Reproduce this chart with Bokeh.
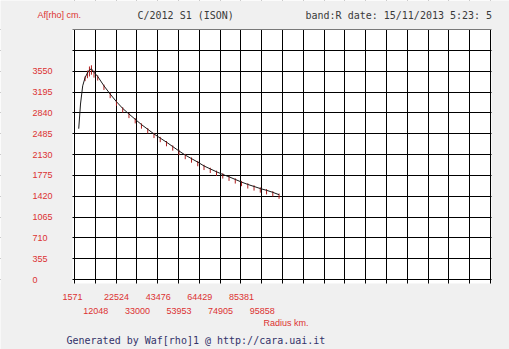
from bokeh.plotting import figure
from bokeh.models import Range1d, FixedTicker, Label, LabelSet, ColumnDataSource
from bokeh.core.properties import value
from bokeh.embed import file_html
from bokeh.resources import INLINE

# ---------------- data ----------------
x_tick_labels = ["1571", "12048", "22524", "33000", "43476", "53953",
                 "64429", "74905", "85381", "95858"]
y_tick_labels = ["0", "355", "710", "1065", "1420", "1775", "2130",
                 "2485", "2840", "3195", "3550"]

radius_km = [3700, 4600, 5700, 6900, 8100, 9100, 10100, 11400,
             13250, 16400, 19550, 22700, 25850, 29000, 32150, 35300,
             38450, 41600, 44750, 47900, 51050, 54200, 57350, 60500,
             63650, 66800, 69950, 73100, 76250, 79400, 82550, 85700,
             88850, 92000, 95150, 98300, 101450, 104600]
af_rho = [2570, 2990, 3300, 3440, 3520, 3570, 3590, 3530,
          3460, 3300, 3160, 3030, 2915, 2820, 2730, 2640,
          2560, 2480, 2410, 2340, 2265, 2190, 2120, 2060,
          2000, 1935, 1885, 1835, 1790, 1750, 1705, 1660,
          1620, 1585, 1550, 1520, 1485, 1445]
err_low = [0, 0, 0, 60, 90, 110, 100, 90,
           70, 70, 70, 70, 70, 70, 70, 70,
           70, 70, 70, 70, 70, 70, 70, 70,
           70, 70, 70, 70, 70, 70, 70, 70,
           70, 70, 70, 70, 70, 70]
err_high = [0, 0, 0, 20, 40, 60, 60, 30,
            20, 20, 20, 20, 20, 20, 20, 20,
            20, 20, 20, 20, 20, 20, 20, 20,
            20, 20, 20, 20, 20, 20, 20, 20,
            20, 20, 20, 20, 20, 20]

X0 = 1571.0
DX = (95858 - 1571) / 9.0
NX = 20
DY = 355.0
NY = 12

# ---------------- geometry (pixels on the 509x349 canvas) ----------------
W, H = 509, 349
PL, PT, PW, PH = 74, 29, 416, 250   # plot box
x_end = X0 + NX * DX
y_end = NY * DY


def xd(px):
    return X0 + (px - PL) / PW * (x_end - X0)


def yd(py):
    return (PT + PH - py) / PH * y_end


BG = "#f0f0f0"
p = figure(width=W, height=H, output_backend="svg", toolbar_location=None,
           x_range=Range1d(xd(0), xd(W)), y_range=Range1d(yd(H), yd(0)),
           x_axis_location=None, y_axis_location=None,
           min_border=0, min_border_left=0, min_border_right=0,
           min_border_top=0, min_border_bottom=0,
           background_fill_color="white", border_fill_color=BG,
           outline_line_color=None)

xgrid_ticks = [X0 + k * DX for k in range(NX + 1)]
ygrid_ticks = [k * DY for k in range(NY + 1)]

p.xgrid.ticker = FixedTicker(ticks=xgrid_ticks)
p.ygrid.ticker = FixedTicker(ticks=ygrid_ticks)
for g in (p.xgrid, p.ygrid):
    g.grid_line_color = "black"
    g.grid_line_alpha = 1.0
    g.grid_line_width = 1

# margins around the plot box (grid lines stick out 2-3 px as tick marks)
p.quad(left=[xd(0), xd(PL + PW + 1), xd(0), xd(0)],
       right=[xd(PL - 2), xd(W), xd(W), xd(W)],
       bottom=[yd(H), yd(H), yd(PT), yd(H)],
       top=[yd(0), yd(0), yd(0), yd(PT + PH + 4)],
       fill_color=BG, line_color=None)

# ---------------- curve ----------------
lo = [v - e for v, e in zip(af_rho, err_low)]
hi = [v + e for v, e in zip(af_rho, err_high)]
p.segment(radius_km, lo, radius_km, hi, line_color="#b01e1e", line_width=1)
p.line(radius_km, af_rho, line_color="#1a1a1a", line_width=1)

# ---------------- tick labels ----------------
RED = "#dc3232"
FONT = "Liberation Sans"
MONO = "DejaVu Sans Mono"

y_vals = [k * DY for k in range(len(y_tick_labels))]
ysrc = ColumnDataSource(dict(x=[xd(32)] * len(y_vals), y=y_vals, t=y_tick_labels))
p.add_layout(LabelSet(x="x", y="y", text="t", source=ysrc,
                      text_align="left", text_baseline="middle",
                      text_font=value(FONT), text_font_size="9px", text_color=RED))

x_lab_x = [xd(PL + k * PW / NX - 12) for k in range(len(x_tick_labels))]
x_lab_y = [yd(296.5) if k % 2 == 0 else yd(310) for k in range(len(x_tick_labels))]
xsrc = ColumnDataSource(dict(x=x_lab_x, y=x_lab_y, t=x_tick_labels))
p.add_layout(LabelSet(x="x", y="y", text="t", source=xsrc,
                      text_align="left", text_baseline="middle",
                      text_font=value(FONT), text_font_size="9px", text_color=RED))


# ---------------- texts ----------------
def add_text(txt, px, py, color, font, size):
    p.add_layout(Label(x=xd(px), y=yd(py), text=txt, text_align="left",
                       text_baseline="middle", text_font=font,
                       text_font_size=size, text_color=color))


add_text("Af[rho] cm.", 37, 14.5, RED, FONT, "9px")
add_text("C/2012 S1 (ISON)", 137, 14.5, "#3a3a3a", MONO, "10px")
add_text("band:R date: 15/11/2013  5:23: 5", 305, 14.5, "#3a3a3a", MONO, "10px")
add_text("Radius km.", 263, 322.5, RED, FONT, "9px")
add_text("Generated by Waf[rho]1 @ http://cara.uai.it", 66, 339.5, "#33336a", MONO, "10px")

open("out.html", "w").write(file_html(p, INLINE))
